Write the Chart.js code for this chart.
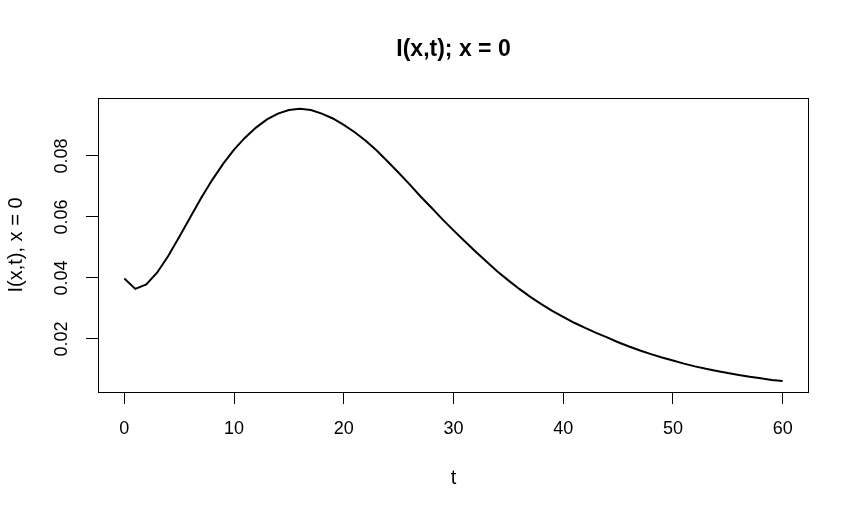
<!DOCTYPE html>
<html>
<head>
<meta charset="utf-8">
<title>I(x,t); x = 0</title>
<script src="https://cdn.jsdelivr.net/npm/chart.js@4"></script>
<style>
  html, body { margin: 0; padding: 0; background: #fff; }
  #wrap { width: 860px; height: 515px; position: relative; }
</style>
</head>
<body>
<div id="wrap"><canvas id="plot"></canvas></div>
<script>
// time points and I(x,t) at x = 0
var tValues = [0, 1, 2, 3, 4, 5, 6, 7, 8, 9,
  10, 11, 12, 13, 14, 15, 16, 17, 18, 19,
  20, 21, 22, 23, 24, 25, 26, 27, 28, 29,
  30, 31, 32, 33, 34, 35, 36, 37, 38, 39,
  40, 41, 42, 43, 44, 45, 46, 47, 48, 49,
  50, 51, 52, 53, 54, 55, 56, 57, 58, 59, 60];
var iValues = [0.0398, 0.0364, 0.0379, 0.0418, 0.0472, 0.0534, 0.0598, 0.0662, 0.0721, 0.0774,
  0.0821, 0.0860, 0.0893, 0.0920, 0.0939, 0.0951, 0.0955, 0.0951, 0.0939, 0.0923,
  0.0902, 0.0878, 0.0850, 0.0818, 0.0782, 0.0745, 0.0707, 0.0667, 0.0630, 0.0592,
  0.0556, 0.0521, 0.0487, 0.0454, 0.0421, 0.0392, 0.0364, 0.0338, 0.0314, 0.0292,
  0.0272, 0.0253, 0.0236, 0.0220, 0.0205, 0.0189, 0.0175, 0.0162, 0.0150, 0.0139,
  0.0129, 0.0119, 0.0110, 0.0102, 0.0095, 0.0088, 0.0082, 0.0076, 0.0071, 0.0065, 0.0062];
var xTicks = [0, 10, 20, 30, 40, 50, 60];
var yTicks = [0.02, 0.04, 0.06, 0.08];

var FONT = '"Liberation Sans", Arial, sans-serif';

// R-style box round the plot region
var boxPlugin = {
  id: 'box',
  afterDraw: function (chart) {
    var a = chart.chartArea, c = chart.ctx;
    c.save();
    c.strokeStyle = '#000';
    c.lineWidth = 1;
    c.strokeRect(Math.round(a.left) + 0.5, Math.round(a.top) + 0.5,
      Math.round(a.right - a.left) - 1, Math.round(a.bottom - a.top));
    c.restore();
  }
};

var pts = tValues.map(function (t, i) { return { x: t, y: iValues[i] }; });

new Chart(document.getElementById('plot'), {
  type: 'line',
  data: {
    datasets: [{
      data: pts,
      borderColor: '#000',
      borderWidth: 2,
      pointRadius: 0,
      tension: 0,
      fill: false
    }]
  },
  plugins: [boxPlugin],
  options: {
    responsive: true,
    maintainAspectRatio: false,
    animation: false,
    events: [],
    layout: { padding: { left: 0, right: 51, top: 0, bottom: 0 } },
    plugins: {
      legend: { display: false },
      tooltip: { enabled: false },
      title: {
        display: true,
        text: 'I(x,t); x = 0',
        fullSize: false,
        color: '#000',
        font: { family: FONT, size: 23, weight: 'bold', lineHeight: 1.2 },
        padding: { top: 36.2, bottom: 34.2 }
      }
    },
    scales: {
      x: {
        type: 'linear',
        min: -2.4,
        max: 62.4,
        afterBuildTicks: function (s) { s.ticks = xTicks.map(function (v) { return { value: v }; }); },
        afterFit: function (s) { s.height = 123; },
        grid: { drawOnChartArea: false, drawTicks: true, tickLength: 12, tickColor: '#000', lineWidth: 1 },
        border: { display: false },
        ticks: {
          color: '#000',
          padding: 14,
          maxRotation: 0,
          minRotation: 0,
          font: { family: FONT, size: 18 },
          callback: function (v) { return String(v); }
        },
        title: {
          display: true,
          text: 't',
          color: '#000',
          font: { family: FONT, size: 20, lineHeight: 1.2 },
          padding: { top: 0, bottom: 25 }
        }
      },
      y: {
        type: 'linear',
        min: 0.00259,
        max: 0.09902,
        afterBuildTicks: function (s) { s.ticks = yTicks.map(function (v) { return { value: v }; }); },
        afterFit: function (s) { s.width = 98; },
        grid: { drawOnChartArea: false, drawTicks: true, tickLength: 12, tickColor: '#000', lineWidth: 1 },
        border: { display: false },
        ticks: {
          color: '#000',
          padding: 6,
          minRotation: 90,
          maxRotation: 90,
          crossAlign: 'center',
          font: { family: FONT, size: 18 },
          callback: function (v) { return v.toFixed(2); }
        },
        title: {
          display: true,
          text: 'I(x,t), x = 0',
          color: '#000',
          font: { family: FONT, size: 20, lineHeight: 1.2 },
          padding: { top: 4.7, bottom: 0 }
        }
      }
    }
  }
});
</script>
</body>
</html>
